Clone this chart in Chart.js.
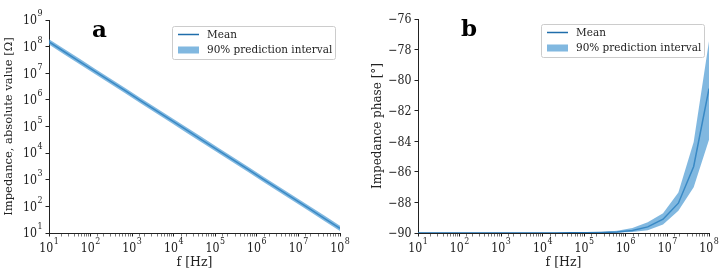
<!DOCTYPE html>
<html>
<head>
<meta charset="utf-8">
<script src="https://cdn.jsdelivr.net/npm/chart.js@4.4.1/dist/chart.umd.min.js"></script>
<style>
  html, body { margin: 0; padding: 0; background: #fff; }
  #wrap { position: relative; width: 725px; height: 277px; }
  #chartA { position: absolute; left: 0; top: 0; }
  #chartB { position: absolute; left: 362px; top: 0; }
</style>
</head>
<body>
<div id="wrap">
  <canvas id="chartA" width="362" height="277"></canvas>
  <canvas id="chartB" width="363" height="277"></canvas>
</div>
<script>
// frequencies (Hz), 20 log-spaced samples 10 .. 1e8
const freq = [10, 23.36, 54.56, 127.4, 297.6, 695.2, 1624, 3793, 8859, 20690,
  48330, 112900, 263700, 615800, 1438000, 3360000, 7848000, 18330000, 42810000, 100000000];

// |Z| in ohm
const magMean = [1.5e8, 6.42e7, 2.75e7, 1.18e7, 5.04e6, 2.16e6, 9.24e5, 3.95e5, 1.69e5, 7.25e4,
  3.10e4, 1.33e4, 5.69e3, 2.44e3, 1.04e3, 446, 191, 81.8, 35.0, 15.0];
const magHigh = [1.89e8, 8.09e7, 3.47e7, 1.49e7, 6.35e6, 2.72e6, 1.16e6, 4.98e5, 2.13e5, 9.14e4,
  3.91e4, 1.68e4, 7.17e3, 3.07e3, 1.31e3, 562, 241, 103, 44.1, 18.9];
const magLow = [1.19e8, 5.10e7, 2.18e7, 9.37e6, 4.00e6, 1.72e6, 7.34e5, 3.14e5, 1.34e5, 5.76e4,
  2.46e4, 1.06e4, 4.52e3, 1.94e3, 826, 354, 152, 65.0, 27.8, 11.9];

// phase in degrees
const phaseMean = [-90, -90, -90, -90, -90, -90, -90, -90, -90, -90,
  -89.99, -89.99, -89.97, -89.93, -89.83, -89.60, -89.10, -88.05, -85.65, -80.55];
const phaseHigh = [-89.99, -89.99, -89.99, -89.99, -89.99, -89.99, -89.99, -89.99, -89.99, -89.99,
  -89.98, -89.97, -89.94, -89.86, -89.68, -89.30, -88.70, -87.35, -84.05, -77.45];
const phaseLow = [-90, -90, -90, -90, -90, -90, -90, -90, -90, -90,
  -90, -90, -89.99, -89.97, -89.93, -89.82, -89.45, -88.55, -87.00, -83.90];

const phaseTicks = [-90, -88, -86, -84, -82, -80, -78, -76];
const legendLabels = ['Mean', '90% prediction interval'];

const LINE = '#1f6dab';
const BAND = 'rgba(70,150,210,0.68)';
const INK = '#222222';
const FONT = "'DejaVu Serif', serif";
const SX = 0.88; // horizontal squeeze of the reference lettering

function isDecade(v) {
  const l = Math.log10(v);
  return Math.abs(l - Math.round(l)) < 1e-9;
}
const pts = (ys) => freq.map((f, i) => ({x: f, y: ys[i]}));

function squeezedText(ctx, text, x, y) {
  ctx.save();
  ctx.translate(x, y);
  ctx.scale(SX, 1);
  ctx.fillText(text, 0, 0);
  ctx.restore();
}

// tick labels like 10^5 with a raised exponent
function drawTickLabel(ctx, base, exp, x, y, align) {
  ctx.font = "12.5px " + FONT;
  const wb = ctx.measureText(base).width * SX;
  ctx.font = "9px " + FONT;
  const we = exp ? ctx.measureText(exp).width * SX + 0.5 : 0;
  const total = wb + we;
  const start = align === 'center' ? x - total / 2 : x - total;
  ctx.font = "12.5px " + FONT;
  squeezedText(ctx, base, start, y);
  if (exp) {
    ctx.font = "9px " + FONT;
    squeezedText(ctx, exp, start + wb + 0.5, y - 8);
  }
}

const tickText = {
  id: 'tickText',
  afterDraw(chart) {
    const {ctx, chartArea} = chart;
    ctx.save();
    ctx.fillStyle = INK;
    ctx.textAlign = 'left';
    ctx.textBaseline = 'alphabetic';
    ['x', 'y'].forEach(id => {
      const s = chart.scales[id];
      const log = s.type === 'logarithmic';
      s.ticks.forEach(t => {
        if (log && !isDecade(t.value)) return;
        const base = log ? '10' : String(t.value).replace('-', '\u2212');
        const exp = log ? String(Math.round(Math.log10(t.value))) : '';
        const p = s.getPixelForValue(t.value);
        if (id === 'x') drawTickLabel(ctx, base, exp, p, chartArea.bottom + 19, 'center');
        else drawTickLabel(ctx, base, exp, chartArea.left - 6.5, p + 4.3, 'right');
      });
    });
    ctx.restore();
  }
};

// legend box + panel letter
const boxLegend = {
  id: 'boxLegend',
  afterDatasetsDraw(chart, args, opts) {
    const {ctx, chartArea} = chart;
    ctx.save();
    ctx.font = "bold 23px " + FONT;
    ctx.fillStyle = '#000';
    ctx.textBaseline = 'alphabetic';
    ctx.fillText(opts.letter, chartArea.left + 43, chartArea.top + 17);

    const w = 163, h = 33;
    const x = chartArea.right - 5 - w, y = chartArea.top + opts.dy;
    ctx.beginPath();
    ctx.roundRect(x + 0.5, y + 0.5, w, h, 2);
    ctx.fillStyle = 'rgba(255,255,255,0.85)';
    ctx.fill();
    ctx.strokeStyle = '#cccccc';
    ctx.lineWidth = 1;
    ctx.stroke();

    ctx.strokeStyle = LINE;
    ctx.lineWidth = 1.5;
    ctx.beginPath();
    ctx.moveTo(x + 6, y + 8.5);
    ctx.lineTo(x + 27, y + 8.5);
    ctx.stroke();
    ctx.fillStyle = BAND;
    ctx.fillRect(x + 6, y + 20.5, 21, 7);

    ctx.font = "11.9px " + FONT;
    ctx.fillStyle = INK;
    ctx.textBaseline = 'middle';
    squeezedText(ctx, legendLabels[0], x + 35, y + 9);
    squeezedText(ctx, legendLabels[1], x + 35, y + 24);
    ctx.restore();
  }
};

function xScale() {
  return {
    type: 'logarithmic',
    min: 10,
    max: 1e8,
    afterFit: (s) => { s.height = 44; },
    border: { display: true, color: INK, width: 1 },
    grid: {
      display: true,
      drawOnChartArea: false,
      drawTicks: true,
      tickLength: 3.5,
      tickColor: INK,
      tickWidth: (c) => (c.tick && isDecade(c.tick.value)) ? 1 : 0.6
    },
    ticks: { autoSkip: false, maxRotation: 0, callback: () => '' },
    title: {
      display: true,
      text: 'f [Hz]',
      color: INK,
      font: { family: FONT, size: 12.5 },
      padding: { top: 0, bottom: 7 }
    }
  };
}

function baseOptions(yScale, letter, dy, top, rightPad) {
  return {
    responsive: false,
    animation: false,
    layout: { padding: { top: top, right: rightPad, left: 0, bottom: 0 } },
    elements: { point: { radius: 0 }, line: { tension: 0 } },
    plugins: {
      legend: { display: false },
      tooltip: { enabled: false },
      boxLegend: { letter: letter, dy: dy }
    },
    scales: { x: xScale(), y: yScale }
  };
}

function datasets(hi, lo, mean) {
  return [
    { label: 'upper', data: pts(hi), borderWidth: 0, borderColor: 'rgba(0,0,0,0)', fill: false },
    { label: legendLabels[1], data: pts(lo), borderWidth: 0, borderColor: 'rgba(0,0,0,0)', backgroundColor: BAND, fill: '-1' },
    { label: legendLabels[0], data: pts(mean), borderColor: LINE, borderWidth: 1.5, fill: false }
  ];
}

new Chart(document.getElementById('chartA'), {
  type: 'line',
  data: { datasets: datasets(magHigh, magLow, magMean) },
  options: baseOptions({
    type: 'logarithmic',
    min: 10,
    max: 1e9,
    afterFit: (s) => { s.width = 49; },
    border: { display: true, color: INK, width: 1 },
    grid: {
      display: true,
      drawOnChartArea: false,
      tickLength: 3.5,
      tickColor: (c) => (c.tick && isDecade(c.tick.value)) ? INK : 'rgba(0,0,0,0)'
    },
    ticks: { autoSkip: false, callback: () => '' },
    title: {
      display: true,
      text: 'Impedance, absolute value [Ω]',
      color: INK,
      font: { family: FONT, size: 11.5 },
      padding: { top: 2.5, bottom: 0 }
    }
  }, 'a', 6, 20, 22),
  plugins: [boxLegend, tickText]
});

new Chart(document.getElementById('chartB'), {
  type: 'line',
  data: { datasets: datasets(phaseHigh, phaseLow, phaseMean) },
  options: baseOptions({
    type: 'linear',
    min: -90,
    max: -76,
    afterFit: (s) => { s.width = 56; },
    afterBuildTicks: (s) => { s.ticks = phaseTicks.map(v => ({ value: v })); },
    border: { display: true, color: INK, width: 1 },
    grid: {
      display: true,
      drawOnChartArea: false,
      tickLength: 3.5,
      tickColor: INK
    },
    ticks: { callback: () => '' },
    title: {
      display: true,
      text: 'Impedance phase [°]',
      color: INK,
      font: { family: FONT, size: 12 },
      padding: { top: 8.5, bottom: 0 }
    }
  }, 'b', 5, 19, 16),
  plugins: [boxLegend, tickText]
});
</script>
</body>
</html>
